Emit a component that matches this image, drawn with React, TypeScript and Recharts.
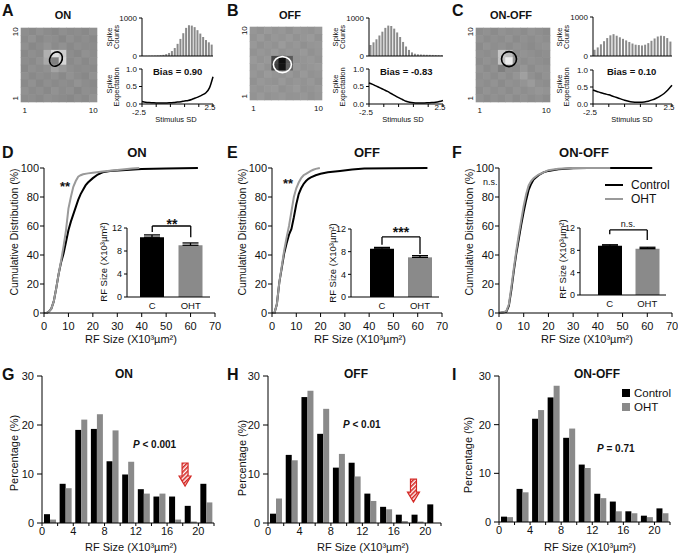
import React from 'react'
import {
  BarChart,
  Bar,
  Cell,
  ErrorBar,
  LineChart,
  Line,
  ScatterChart,
  Scatter,
  XAxis,
  YAxis,
  ReferenceLine,
  ReferenceDot,
} from 'recharts'

const FONT = '"Liberation Sans", Arial, Helvetica, sans-serif'
const INK = '#111'
const GRAY = '#8a8a8a'
const LIGHT = '#9a9a9a'

// ---- A-C: receptive field maps (grey level per checker, top row first) ----
const rfOn = [
  [142, 138, 145, 140, 136, 143, 139, 141, 137, 144],
  [139, 146, 137, 143, 141, 135, 144, 138, 142, 136],
  [144, 136, 141, 148, 139, 145, 137, 143, 140, 139],
  [137, 143, 139, 176, 222, 205, 141, 136, 145, 141],
  [141, 138, 146, 170, 128, 214, 138, 144, 137, 143],
  [136, 144, 140, 145, 163, 152, 143, 139, 141, 138],
  [143, 137, 142, 139, 144, 137, 146, 140, 136, 145],
  [138, 145, 136, 143, 138, 142, 139, 147, 141, 137],
  [145, 139, 143, 137, 146, 140, 144, 135, 143, 140],
  [140, 142, 138, 144, 141, 139, 136, 142, 138, 146],
]
const rfOff = [
  [150, 146, 153, 148, 151, 145, 152, 149, 147, 153],
  [147, 154, 145, 151, 148, 153, 146, 150, 154, 146],
  [152, 145, 150, 146, 155, 147, 151, 144, 149, 151],
  [146, 151, 147, 153, 146, 150, 148, 153, 145, 150],
  [153, 147, 152, 70, 15, 90, 146, 149, 152, 147],
  [148, 153, 146, 62, 20, 96, 152, 147, 150, 153],
  [151, 146, 154, 149, 147, 152, 145, 153, 146, 149],
  [145, 152, 148, 146, 153, 146, 150, 147, 152, 145],
  [150, 147, 151, 153, 145, 149, 154, 146, 148, 152],
  [147, 153, 146, 149, 152, 147, 148, 151, 145, 150],
]
const rfOnOff = [
  [141, 145, 139, 146, 142, 144, 140, 147, 143, 139],
  [146, 140, 144, 141, 147, 139, 145, 141, 146, 142],
  [139, 147, 142, 145, 140, 146, 143, 139, 144, 147],
  [144, 141, 146, 198, 188, 142, 147, 144, 140, 143],
  [140, 146, 141, 196, 235, 147, 141, 146, 143, 140],
  [147, 139, 145, 128, 143, 141, 150, 140, 147, 145],
  [142, 146, 140, 147, 141, 149, 160, 145, 139, 146],
  [145, 141, 147, 139, 146, 143, 148, 155, 144, 141],
  [140, 147, 142, 146, 140, 147, 142, 146, 150, 147],
  [146, 140, 145, 141, 147, 140, 146, 141, 145, 140],
]

// spike-triggered stimulus histograms (bin centres in SD units)
const sdBins = [-2.4, -2.2, -2.0, -1.8, -1.6, -1.4, -1.2, -1.0, -0.8, -0.6, -0.4, -0.2, 0, 0.2, 0.4, 0.6, 0.8, 1.0, 1.2, 1.4, 1.6, 1.8, 2.0, 2.2, 2.4]
const spikesOn = [4, 5, 6, 8, 10, 14, 20, 30, 50, 80, 130, 210, 320, 450, 600, 740, 810, 800, 760, 680, 590, 500, 420, 360, 300]
const spikesOff = [290, 360, 440, 540, 640, 740, 800, 790, 720, 620, 500, 370, 250, 160, 95, 60, 45, 40, 35, 32, 30, 28, 25, 22, 20]
const spikesOnOff = [160, 220, 300, 380, 460, 530, 560, 520, 480, 440, 400, 360, 320, 290, 280, 270, 290, 330, 390, 450, 500, 520, 510, 460, 370]

// spike expectation vs stimulus
const biasSd = [-2.5, -2.25, -2.0, -1.75, -1.5, -1.25, -1.0, -0.75, -0.5, -0.25, 0, 0.25, 0.5, 0.75, 1.0, 1.25, 1.5, 1.75, 2.0, 2.25, 2.5]
const biasOn = [0.07, 0.05, 0.04, 0.035, 0.03, 0.03, 0.03, 0.03, 0.035, 0.04, 0.055, 0.065, 0.085, 0.1, 0.13, 0.17, 0.21, 0.26, 0.32, 0.46, 0.78]
const biasOff = [0.6, 0.56, 0.51, 0.46, 0.41, 0.36, 0.3, 0.24, 0.18, 0.13, 0.08, 0.05, 0.035, 0.03, 0.03, 0.03, 0.035, 0.04, 0.05, 0.07, 0.1]
const biasOnOff = [0.41, 0.37, 0.33, 0.3, 0.27, 0.23, 0.19, 0.15, 0.11, 0.08, 0.06, 0.05, 0.05, 0.06, 0.08, 0.12, 0.17, 0.23, 0.31, 0.42, 0.55]

// ---- D-F: cumulative distributions, [RF size, %] ----
const cdfOnControl = [[0, 0], [1, 0], [2, 1], [3, 3], [4, 8], [5, 17], [6, 27], [7, 35], [8, 41], [9, 49], [10, 57], [11, 63], [12, 68], [13, 73], [14, 78], [15, 82], [16, 85], [17, 88], [18, 90], [20, 93], [22, 95.5], [24, 97], [27, 98], [32, 98.5], [40, 99.3], [50, 99.7], [63, 100]]
const cdfOnOHT = [[0, 0], [1, 0], [2, 1], [3, 3], [4, 8], [5, 17], [6, 27], [7, 36], [8, 46], [9, 57], [10, 72], [11, 80], [12, 87], [13, 91], [14, 94], [15, 95], [16, 95.7], [18, 96.3], [20, 96.8], [24, 97.6], [28, 98.3], [32, 99], [36, 99.6], [39, 100]]
const cdfOffControl = [[0, 0], [1, 0], [2, 6], [3, 21], [4, 31], [5, 41], [6, 48], [7, 54], [8, 58], [9, 66], [10, 75], [11, 82], [12, 86], [13, 89], [14, 91], [15, 92.5], [16, 93.5], [18, 95], [20, 96], [23, 97], [28, 98], [33, 99], [38, 99.7], [50, 99.9], [64, 100]]
const cdfOffOHT = [[0, 0], [1, 0], [2, 6], [3, 21], [4, 32], [5, 43], [6, 52], [7, 60], [8, 70], [9, 80], [10, 86], [11, 90], [12, 93], [13, 95], [14, 96], [15, 97], [16, 98], [17, 98.8], [18, 99.4], [19.7, 100]]
const cdfOnOffControl = [[0, 0], [2, 0.5], [3, 1], [4, 5], [5, 16], [6, 29], [7, 41], [8, 51], [9, 61], [10, 70], [11, 78], [12, 85], [13, 89], [14, 92], [16, 95], [18, 97], [20, 98], [24, 99.2], [30, 99.8], [36, 100], [62, 100]]
const cdfOnOffOHT = [[0, 0], [2, 0.5], [3, 1.5], [4, 6], [5, 18], [6, 31], [7, 43], [8, 54], [9, 64], [10, 74], [11, 82], [12, 88], [13, 91], [14, 93], [16, 95.5], [18, 97], [20, 98.5], [24, 99.5], [30, 100], [45, 100]]

// inset bars: mean RF size and SEM
const groups = ['C', 'OHT']
const meanOn = [10.4, 9.0]
const semOn = [0.4, 0.4]
const meanOff = [8.5, 7.0]
const semOff = [0.25, 0.3]
const meanOnOff = [8.8, 8.3]
const semOnOff = [0.2, 0.25]

// ---- G-I: RF size histograms (bins of 2, centres) ----
const sizeBins = [1, 3, 5, 7, 9, 11, 13, 15, 17, 19, 21]
const histOnControl = [1.8, 8.0, 19.0, 19.2, 12.6, 9.9, 6.9, 5.4, 5.4, 3.5, 8.0]
const histOnOHT = [0.7, 7.1, 21.1, 22.2, 18.9, 12.5, 6.0, 6.0, 0.7, 0.3, 4.2]
const histOffControl = [1.9, 13.9, 25.7, 18.2, 11.3, 12.3, 6.0, 3.3, 1.7, 1.7, 3.8]
const histOffOHT = [5.0, 12.8, 27.0, 23.3, 14.1, 9.5, 4.5, 2.8, 0.4, 0.3, 0]
const histOnOffControl = [1.1, 6.8, 21.2, 25.6, 17.3, 11.8, 5.8, 4.2, 2.2, 1.3, 2.8]
const histOnOffOHT = [1.0, 6.1, 23.0, 28.0, 19.2, 11.1, 4.9, 2.2, 1.8, 1.0, 1.8]

type Rect = { x0: number; y0: number; x1: number; y1: number }
type Pad = { l: number; t: number; r: number; b: number }

function frame(rect: Rect, pad: Pad) {
  return {
    style: { position: 'absolute' as const, left: rect.x0 - pad.l, top: rect.y0 - pad.t },
    width: rect.x1 - rect.x0 + pad.l + pad.r,
    height: rect.y1 - rect.y0 + pad.t + pad.b,
    margin: { top: pad.t, right: pad.r, bottom: 0, left: 0 },
  }
}

const axisText = (size: number) => ({ fontSize: size, fill: INK })

function GridTickY(props: any) {
  const { x, y, payload } = props
  return (
    <text transform={`translate(${x - 6} ${y}) rotate(-90)`} textAnchor="middle" dominantBaseline="central" fontSize={8} fill={INK}>
      {payload.value}
    </text>
  )
}

function SdTick(props: any) {
  const { x, y, payload } = props
  if (payload.value === -2.5)
    return <text x={x - 3} y={y + 7} textAnchor="middle" fontSize={8} fill={INK}>-2.5</text>
  if (payload.value === 2.5)
    return <text x={x - 3} y={y + 2} textAnchor="middle" fontSize={8} fill={INK}>2.5</text>
  return <g />
}

type Ell = { x: number; y: number; rx: number; ry: number; rot: number; stroke: string }

function RfMap({ grid, rect, ell }: { grid: number[][]; rect: Rect; ell: Ell }) {
  const pad = { l: 12, t: 2, r: 2, b: 14 }
  const f = frame(rect, pad)
  const cw = (rect.x1 - rect.x0) / 10
  const ch = (rect.y1 - rect.y0) / 10
  const cells = grid.flatMap((row, r) => row.map((g, c) => ({ x: c + 1, y: 10 - r, g })))
  return (
    <div style={f.style}>
      <ScatterChart width={f.width} height={f.height} margin={f.margin}>
        <XAxis type="number" dataKey="x" domain={[0.5, 10.5]} ticks={[1, 10]} interval={0} axisLine={false} tickLine={false} tickSize={0} tickMargin={5} height={pad.b} tick={axisText(8)} />
        <YAxis type="number" dataKey="y" domain={[0.5, 10.5]} ticks={[1, 10]} interval={0} axisLine={false} tickLine={false} tickSize={0} tickMargin={0} width={pad.l} tick={<GridTickY />} />
        <Scatter
          data={cells}
          isAnimationActive={false}
          shape={(p: any) => (
            <rect x={p.cx - cw / 2 - 0.3} y={p.cy - ch / 2 - 0.3} width={cw + 0.6} height={ch + 0.6} fill={`rgb(${p.payload.g},${p.payload.g},${p.payload.g})`} />
          )}
        />
        <Scatter
          data={[{ x: ell.x, y: ell.y }]}
          isAnimationActive={false}
          shape={(p: any) => (
            <ellipse cx={p.cx} cy={p.cy} rx={ell.rx} ry={ell.ry} transform={`rotate(${ell.rot} ${p.cx} ${p.cy})`} fill="none" stroke={ell.stroke} strokeWidth={1.6} />
          )}
        />
      </ScatterChart>
    </div>
  )
}

function SpikeHist({ counts, rect }: { counts: number[]; rect: Rect }) {
  const pad = { l: 30, t: 6, r: 3, b: 4 }
  const f = frame(rect, pad)
  const data = sdBins.map((mid, i) => ({ mid, n: counts[i] }))
  return (
    <div style={f.style}>
      <BarChart width={f.width} height={f.height} margin={f.margin} data={data} barCategoryGap="18%">
        <XAxis xAxisId="num" dataKey="mid" type="number" domain={[-2.5, 2.5]} ticks={[-2.5, -1.5, -0.5, 0.5, 1.5, 2.5]} interval={0} tick={false} tickSize={3} height={pad.b} stroke="#000" />
        <XAxis xAxisId="cat" dataKey="mid" type="category" hide height={0} />
        <YAxis domain={[0, 1000]} ticks={[0, 1000]} interval={0} width={pad.l} tickSize={3} tickMargin={2} tick={axisText(8)} stroke="#000" />
        <Bar xAxisId="cat" dataKey="n" fill={GRAY} isAnimationActive={false} />
      </BarChart>
    </div>
  )
}

function BiasCurve({ values, rect }: { values: number[]; rect: Rect }) {
  const pad = { l: 30, t: 6, r: 3, b: 14 }
  const f = frame(rect, pad)
  const data = biasSd.map((x, i) => ({ x, y: values[i] }))
  return (
    <div style={f.style}>
      <LineChart width={f.width} height={f.height} margin={f.margin} data={data}>
        <XAxis dataKey="x" type="number" domain={[-2.5, 2.5]} ticks={[-2.5, -1.5, -0.5, 0.5, 1.5, 2.5]} interval={0} tickSize={3} tickMargin={1} height={pad.b} tick={<SdTick />} stroke="#000" />
        <YAxis domain={[0, 1]} ticks={[0, 0.5, 1]} interval={0} tickFormatter={(v: number) => v.toFixed(1)} width={pad.l} tickSize={3} tickMargin={2} tick={axisText(8)} stroke="#000" />
        <Line dataKey="y" type="monotone" stroke="#000" strokeWidth={1.5} dot={false} isAnimationActive={false} />
      </LineChart>
    </div>
  )
}

const toXY = (pts: number[][]) => pts.map(([x, y]) => ({ x, y }))

function CdfPanel({ control, oht, rect }: { control: number[][]; oht: number[][]; rect: Rect }) {
  const pad = { l: 30, t: 8, r: 8, b: 22 }
  const f = frame(rect, pad)
  return (
    <div style={f.style}>
      <LineChart width={f.width} height={f.height} margin={f.margin}>
        <XAxis type="number" dataKey="x" domain={[0, 70]} ticks={[0, 10, 20, 30, 40, 50, 60, 70]} interval={0} tickSize={4} tickMargin={5} height={pad.b} tick={axisText(11)} stroke="#000" />
        <YAxis type="number" domain={[0, 100]} ticks={[0, 20, 40, 60, 80, 100]} interval={0} width={pad.l} tickSize={4} tickMargin={1} tick={axisText(11)} stroke="#000" />
        <Line data={toXY(control)} dataKey="y" type="linear" stroke="#000" strokeWidth={2} dot={false} isAnimationActive={false} />
        <Line data={toXY(oht)} dataKey="y" type="linear" stroke={LIGHT} strokeWidth={2} dot={false} isAnimationActive={false} />
      </LineChart>
    </div>
  )
}

type Bracket = { top: number; left: number; right: number }

function InsetBars({ means, sems, rect, padLeft, bracket }: { means: number[]; sems: number[]; rect: Rect; padLeft: number; bracket: Bracket }) {
  const pad = { l: 24, t: 14, r: 2, b: 16 }
  const f = frame(rect, pad)
  const data = groups.map((g, i) => ({ g, m: means[i], e: [0, sems[i]] }))
  const line = { stroke: '#000', strokeWidth: 1.3, ifOverflow: 'visible' as const }
  return (
    <div style={f.style}>
      <BarChart width={f.width} height={f.height} margin={f.margin} data={data} barSize={24}>
        <XAxis dataKey="g" type="category" padding={{ left: padLeft, right: 0 }} interval={0} tickLine={false} tickSize={0} tickMargin={5} height={pad.b} tick={axisText(9.5)} stroke="#000" />
        <YAxis domain={[0, 12]} ticks={[0, 4, 8, 12]} interval={0} width={pad.l} tickSize={3} tickMargin={2} tick={axisText(9)} stroke="#000" />
        <Bar dataKey="m" isAnimationActive={false}>
          <Cell fill="#000" />
          <Cell fill={GRAY} />
          <ErrorBar dataKey="e" width={8} stroke="#000" strokeWidth={1.3} direction="y" />
        </Bar>
        <ReferenceLine segment={[{ x: 'C', y: bracket.top }, { x: 'OHT', y: bracket.top }]} {...line} />
        <ReferenceLine segment={[{ x: 'C', y: bracket.top }, { x: 'C', y: bracket.left }]} {...line} />
        <ReferenceLine segment={[{ x: 'OHT', y: bracket.top }, { x: 'OHT', y: bracket.right }]} {...line} />
      </BarChart>
    </div>
  )
}

function DownArrow(p: any) {
  const { cx, cy } = p
  const pts = `${cx - 3},${cy - 12} ${cx + 3},${cy - 12} ${cx + 3},${cy + 1} ${cx + 6},${cy + 1} ${cx},${cy + 11} ${cx - 6},${cy + 1} ${cx - 3},${cy + 1}`
  return <polygon points={pts} fill="url(#redHatch)" stroke="#d42a26" strokeWidth={1.2} />
}

function SizeHist({ control, oht, rect, arrow }: { control: number[]; oht: number[]; rect: Rect; arrow?: { x: number; y: number } }) {
  const pad = { l: 28, t: 8, r: 4, b: 16 }
  const f = frame(rect, pad)
  const data = sizeBins.map((mid, i) => ({ mid, c: control[i], o: oht[i] }))
  return (
    <div style={f.style}>
      <BarChart width={f.width} height={f.height} margin={f.margin} data={data} barGap={0} barSize={6}>
        <XAxis
          xAxisId="num"
          dataKey="mid"
          type="number"
          domain={[0, 22]}
          ticks={[0, 2, 4, 6, 8, 10, 12, 14, 16, 18, 20, 22]}
          interval={0}
          tickFormatter={(v: number) => (v % 4 === 0 && v <= 20 ? String(v) : '')}
          tickSize={3}
          tickMargin={1}
          height={pad.b}
          tick={axisText(11)}
          stroke="#000"
        />
        <XAxis xAxisId="cat" dataKey="mid" type="category" hide height={0} />
        <YAxis domain={[0, 30]} ticks={[0, 10, 20, 30]} interval={0} width={pad.l} tickSize={5} tickMargin={3} tick={axisText(11)} stroke="#000" />
        <Bar xAxisId="cat" dataKey="c" fill="#000" isAnimationActive={false} />
        <Bar xAxisId="cat" dataKey="o" fill={GRAY} isAnimationActive={false} />
        {arrow && <ReferenceDot xAxisId="num" x={arrow.x} y={arrow.y} ifOverflow="visible" shape={DownArrow} />}
      </BarChart>
    </div>
  )
}

function VText({ x, y, size, children }: { x: number; y: number; size: number; children: React.ReactNode }) {
  return (
    <text transform={`translate(${x} ${y}) rotate(-90)`} textAnchor="middle" dominantBaseline="central" fontSize={size} fill={INK}>
      {children}
    </text>
  )
}

function Overlay() {
  const letter = { fontSize: 16, fontWeight: 700, fill: INK }
  const sizeLabel = 'RF Size (X10\u00B3\u00B5m\u00B2)'
  return (
    <svg width={678} height={554} style={{ position: 'absolute', left: 0, top: 0, pointerEvents: 'none' }}>
      <defs>
        <pattern id="redHatch" width="3" height="3" patternUnits="userSpaceOnUse" patternTransform="rotate(45)">
          <rect width="3" height="3" fill="#fff" />
          <rect width="1.6" height="3" fill="#d42a26" />
        </pattern>
      </defs>
      {/* panel letters */}
      <text x={2} y={16} {...letter}>A</text>
      <text x={227} y={16} {...letter}>B</text>
      <text x={452} y={16} {...letter}>C</text>
      <text x={2} y={158} {...letter}>D</text>
      <text x={227} y={158} {...letter}>E</text>
      <text x={452} y={158} {...letter}>F</text>
      <text x={2} y={380} {...letter}>G</text>
      <text x={227} y={380} {...letter}>H</text>
      <text x={452} y={380} {...letter}>I</text>

      {/* top row */}
      <g fontWeight={700} fontSize={11} fill={INK} textAnchor="middle">
        <text x={63} y={19}>ON</text>
        <text x={290} y={19}>OFF</text>
        <text x={511} y={19}>ON-OFF</text>
      </g>
      {[0, 226, 450].map((dx) => (
        <g key={dx}>
          <VText x={109 + dx} y={37} size={7.5}>Spike</VText>
          <VText x={116 + dx} y={37} size={7.5}>Counts</VText>
          <VText x={109 + dx} y={84} size={7.5}>Spike</VText>
          <VText x={116.5 + dx} y={87} size={7.5}>Expectation</VText>
        </g>
      ))}
      <g fontWeight={700} fontSize={9.5} fill={INK}>
        <text x={153} y={75}>Bias = 0.90</text>
        <text x={380} y={75}>Bias = -0.83</text>
        <text x={607} y={75}>Bias = 0.10</text>
      </g>
      <g fontSize={7.5} fill={INK} textAnchor="middle">
        <text x={176} y={122}>Stimulus SD</text>
        <text x={403} y={122}>Stimulus SD</text>
        <text x={632} y={122}>Stimulus SD</text>
      </g>

      {/* middle row */}
      <g fontWeight={700} fontSize={13} fill={INK} textAnchor="middle">
        <text x={137} y={157}>ON</text>
        <text x={367} y={157}>OFF</text>
        <text x={584} y={157}>ON-OFF</text>
      </g>
      <VText x={14} y={232} size={10.5}>Cumulative Distribution (%)</VText>
      <VText x={242} y={232} size={10.5}>Cumulative Distribution (%)</VText>
      <VText x={469} y={232} size={10.5}>Cumulative Distribution (%)</VText>
      <g fontSize={11} fill={INK} textAnchor="middle">
        <text x={131} y={343}>{sizeLabel}</text>
        <text x={360} y={343}>{sizeLabel}</text>
        <text x={587} y={343}>{sizeLabel}</text>
      </g>
      <VText x={103} y={262} size={9.5}>{sizeLabel}</VText>
      <VText x={332} y={263} size={9.5}>{sizeLabel}</VText>
      <VText x={562} y={259} size={9.5}>{sizeLabel}</VText>
      <g fontWeight={700} fontSize={13} fill={INK}>
        <text x={60} y={191}>**</text>
        <text x={283} y={188}>**</text>
      </g>
      <text x={483} y={185} fontSize={9} fill={INK}>n.s.</text>
      <g fontWeight={700} fontSize={14} fill={INK} textAnchor="middle">
        <text x={172} y={229}>**</text>
        <text x={401} y={237}>***</text>
      </g>
      <text x={628} y={227} fontSize={9} fill={INK} textAnchor="middle">n.s.</text>
      <line x1={605} y1={185} x2={623} y2={185} stroke="#000" strokeWidth={2} />
      <line x1={605} y1={199} x2={623} y2={199} stroke={LIGHT} strokeWidth={2} />
      <text x={631} y={189} fontSize={12} fill={INK}>Control</text>
      <text x={631} y={203} fontSize={12} fill={INK}>OHT</text>

      {/* bottom row */}
      <g fontWeight={700} fontSize={12} fill={INK} textAnchor="middle">
        <text x={124} y={378}>ON</text>
        <text x={356} y={378}>OFF</text>
        <text x={597} y={378}>ON-OFF</text>
      </g>
      <VText x={14} y={453} size={11}>Percentage (%)</VText>
      <VText x={242} y={458} size={11}>Percentage (%)</VText>
      <VText x={468} y={455} size={11}>Percentage (%)</VText>
      <g fontSize={11} fill={INK} textAnchor="middle">
        <text x={131} y={551}>{sizeLabel}</text>
        <text x={363} y={551}>{sizeLabel}</text>
        <text x={590} y={551}>{sizeLabel}</text>
      </g>
      <g fontWeight={700} fontSize={10} fill={INK}>
        <text x={133} y={448}><tspan fontStyle="italic">P</tspan> {'<'} 0.001</text>
        <text x={343} y={428}><tspan fontStyle="italic">P</tspan> {'<'} 0.01</text>
        <text x={597} y={452}><tspan fontStyle="italic">P</tspan> = 0.71</text>
      </g>
      <rect x={622} y={389} width={8} height={8} fill="#000" />
      <rect x={622} y={403} width={8} height={8} fill={GRAY} />
      <text x={634} y={397} fontSize={11.5} fill={INK}>Control</text>
      <text x={634} y={411} fontSize={11.5} fill={INK}>OHT</text>
    </svg>
  )
}

export default function App() {
  return (
    <div style={{ position: 'absolute', left: 0, top: 0, width: 678, height: 554, background: '#fff', fontFamily: FONT, overflow: 'hidden' }}>
      <RfMap grid={rfOn} rect={{ x0: 21, y0: 28, x1: 97, y1: 102 }} ell={{ x: 5.1, y: 6.3, rx: 6, ry: 7.5, rot: 30, stroke: '#000' }} />
      <RfMap grid={rfOff} rect={{ x0: 250, y0: 27, x1: 322, y1: 100 }} ell={{ x: 5.0, y: 5.35, rx: 9, ry: 8, rot: 0, stroke: '#fff' }} />
      <RfMap grid={rfOnOff} rect={{ x0: 476, y0: 28, x1: 550, y1: 102 }} ell={{ x: 4.96, y: 6.3, rx: 7.5, ry: 7.5, rot: 0, stroke: '#000' }} />

      <SpikeHist counts={spikesOn} rect={{ x0: 142, y0: 18, x1: 213, y1: 56 }} />
      <SpikeHist counts={spikesOff} rect={{ x0: 369, y0: 18, x1: 443, y1: 56 }} />
      <SpikeHist counts={spikesOnOff} rect={{ x0: 593, y0: 17, x1: 672, y1: 56 }} />

      <BiasCurve values={biasOn} rect={{ x0: 142, y0: 69, x1: 213, y1: 104 }} />
      <BiasCurve values={biasOff} rect={{ x0: 369, y0: 69, x1: 443, y1: 104 }} />
      <BiasCurve values={biasOnOff} rect={{ x0: 593, y0: 70, x1: 672, y1: 104 }} />

      <CdfPanel control={cdfOnControl} oht={cdfOnOHT} rect={{ x0: 44, y0: 168, x1: 215, y1: 313 }} />
      <CdfPanel control={cdfOffControl} oht={cdfOffOHT} rect={{ x0: 272, y0: 168, x1: 442, y1: 313 }} />
      <CdfPanel control={cdfOnOffControl} oht={cdfOnOffOHT} rect={{ x0: 499, y0: 168, x1: 672, y1: 313 }} />

      <InsetBars means={meanOn} sems={semOn} rect={{ x0: 127, y0: 228, x1: 210, y1: 297 }} padLeft={6} bracket={{ top: 12.35, left: 11.3, right: 10.4 }} />
      <InsetBars means={meanOff} sems={semOff} rect={{ x0: 351, y0: 229, x1: 439, y1: 297 }} padLeft={12} bracket={{ top: 10.6, left: 9.2, right: 7.6 }} />
      <InsetBars means={meanOnOff} sems={semOnOff} rect={{ x0: 580, y0: 228, x1: 666, y1: 295 }} padLeft={11} bracket={{ top: 11.65, left: 10.9, right: 9.85 }} />

      <SizeHist control={histOnControl} oht={histOnOHT} rect={{ x0: 42, y0: 376, x1: 214, y1: 523 }} arrow={{ x: 18.3, y: 9.8 }} />
      <SizeHist control={histOffControl} oht={histOffOHT} rect={{ x0: 268, y0: 376, x1: 441, y1: 523 }} arrow={{ x: 18.5, y: 6.5 }} />
      <SizeHist control={histOnOffControl} oht={histOnOffOHT} rect={{ x0: 499, y0: 376, x1: 670, y1: 522 }} />

      <Overlay />
    </div>
  )
}
